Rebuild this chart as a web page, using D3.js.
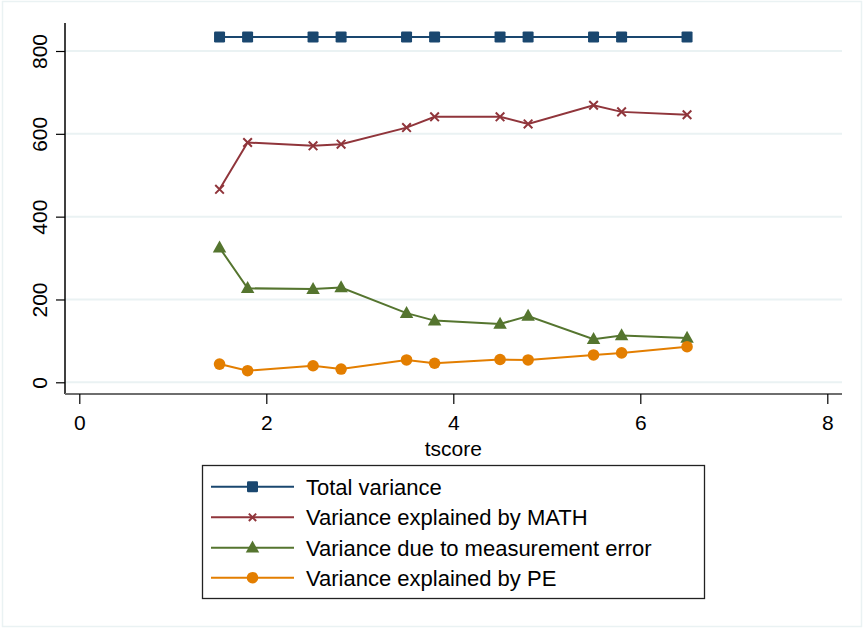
<!DOCTYPE html>
<html>
<head>
<meta charset="utf-8">
<script src="https://cdn.jsdelivr.net/npm/d3@7"></script>
<style>
  html, body { margin: 0; padding: 0; background: #ffffff; }
  svg { display: block; font-family: "Liberation Sans", Arial, sans-serif; }
</style>
</head>
<body>
<svg id="chart" width="863" height="628"></svg>
<script>
// ---- data ----
const tscore = [1.5, 1.8, 2.5, 2.8, 3.5, 3.8, 4.5, 4.8, 5.5, 5.8, 6.5];
const totalVariance = [834, 834, 834, 834, 834, 834, 834, 834, 834, 834, 834];
const mathVariance  = [466, 579, 571, 575, 615, 641, 641, 624, 669, 653, 646];
const errorVariance = [325, 227, 225, 229, 167, 149, 141, 160, 104, 113, 107];
const peVariance    = [44, 28, 40, 32, 54, 46, 55, 54, 66, 71, 86];
const xTicks = [0, 2, 4, 6, 8];
const yTicks = [0, 200, 400, 600, 800];
const seriesNames = ["Total variance", "Variance explained by MATH",
  "Variance due to measurement error", "Variance explained by PE"];
const seriesColors = ["#1a476f", "#90353b", "#55752f", "#e37e00"];
const seriesMarkers = ["square", "x", "triangle", "circle"];
const xLabel = "tscore";

const series = [totalVariance, mathVariance, errorVariance, peVariance].map((vals, i) => ({
  name: seriesNames[i], color: seriesColors[i], marker: seriesMarkers[i],
  points: tscore.map((t, j) => ({ x: t, y: vals[j] }))
}));

const svg = d3.select("#chart");

// outer frame
svg.append("rect").attr("x", 2.5).attr("y", 1.5).attr("width", 859).attr("height", 625)
  .attr("fill", "#ffffff").attr("stroke", "#eaf2f3").attr("stroke-width", 1.5);

const plot = { left: 65, right: 842, top: 23, bottom: 394 };
const x = d3.scaleLinear().domain([0, 8]).range([79.3, 827.3]);
const y = d3.scaleLinear().domain([0, 800]).range([382.3, 51]);

// gridlines
svg.append("g").selectAll("line").data(yTicks).join("line")
  .attr("x1", plot.left).attr("x2", plot.right)
  .attr("y1", d => y(d)).attr("y2", d => y(d))
  .attr("stroke", "#eaf2f3").attr("stroke-width", 2);

// y axis
const yAxis = svg.append("g").attr("transform", `translate(${plot.left},0)`)
  .call(d3.axisLeft(y).tickValues(yTicks).tickSize(9).tickPadding(0).tickFormat(d3.format("d")));
yAxis.select(".domain").attr("d", `M0,${plot.top}V${plot.bottom}`).attr("stroke", "#000").attr("stroke-width", 1.5);
yAxis.selectAll(".tick line").attr("stroke", "#000").attr("stroke-width", 1.2);
yAxis.selectAll(".tick text")
  .attr("font-size", 21).attr("fill", "#000").attr("text-anchor", "middle")
  .attr("x", null).attr("dy", null)
  .attr("transform", "translate(-18,0) rotate(-90)")
  .attr("y", 0);

// x axis
const xAxis = svg.append("g").attr("transform", `translate(0,${plot.bottom})`)
  .call(d3.axisBottom(x).tickValues(xTicks).tickSize(10).tickPadding(0).tickFormat(d3.format("d")));
xAxis.select(".domain").attr("d", `M${plot.left},0H${plot.right}`).attr("stroke", "#6e6e6e").attr("stroke-width", 2);
xAxis.selectAll(".tick line").attr("stroke", "#000").attr("stroke-width", 1.2);
xAxis.selectAll(".tick text").attr("font-size", 21).attr("fill", "#000")
  .attr("y", 36).attr("dy", null);

svg.append("text").attr("x", (x(0) + x(8)) / 2).attr("y", 456)
  .attr("text-anchor", "middle").attr("font-size", 21).attr("fill", "#000").text(xLabel);

// markers
function drawMarker(g, type, color, size) {
  const s = size || 1;
  if (type === "square") {
    g.append("rect").attr("x", -5.5 * s).attr("y", -5.5 * s).attr("width", 11 * s).attr("height", 11 * s)
      .attr("rx", 1.2).attr("fill", color);
  } else if (type === "circle") {
    g.append("circle").attr("r", 5.8 * s).attr("fill", color);
  } else if (type === "triangle") {
    const h = 12 * s, w = 13.5 * s;
    g.append("path").attr("d", `M0,${-h * 0.6}L${w / 2},${h * 0.4}L${-w / 2},${h * 0.4}Z`).attr("fill", color);
  } else if (type === "x") {
    const r = 4.3 * s;
    g.append("path").attr("d", `M${-r},${-r}L${r},${r}M${-r},${r}L${r},${-r}`)
      .attr("stroke", color).attr("stroke-width", 2).attr("fill", "none");
  }
}

const line = d3.line().x(d => x(d.x)).y(d => y(d.y));
series.forEach(s => {
  const g = svg.append("g");
  g.append("path").datum(s.points).attr("d", line)
    .attr("fill", "none").attr("stroke", s.color).attr("stroke-width", 2);
  g.selectAll("g.m").data(s.points).join("g").attr("class", "m")
    .attr("transform", d => `translate(${x(d.x)},${y(d.y)})`)
    .each(function () { drawMarker(d3.select(this), s.marker, s.color, 1); });
});

// legend
const legend = svg.append("g");
legend.append("rect").attr("x", 202.5).attr("y", 465.5).attr("width", 502).attr("height", 133)
  .attr("fill", "#fff").attr("stroke", "#222").attr("stroke-width", 1.3);
const rowY = [486.7, 517.3, 547.7, 577.7];
series.forEach((s, i) => {
  const g = legend.append("g").attr("transform", `translate(0,${rowY[i]})`);
  g.append("line").attr("x1", 211).attr("x2", 294).attr("y1", 0).attr("y2", 0)
    .attr("stroke", s.color).attr("stroke-width", 2);
  const m = g.append("g").attr("transform", "translate(252.5,0)");
  drawMarker(m, s.marker, s.color, s.marker === "x" ? 0.85 : 1);
  g.append("text").attr("x", 306).attr("y", 8).attr("font-size", 22).attr("fill", "#000").text(s.name);
});
</script>
</body>
</html>
